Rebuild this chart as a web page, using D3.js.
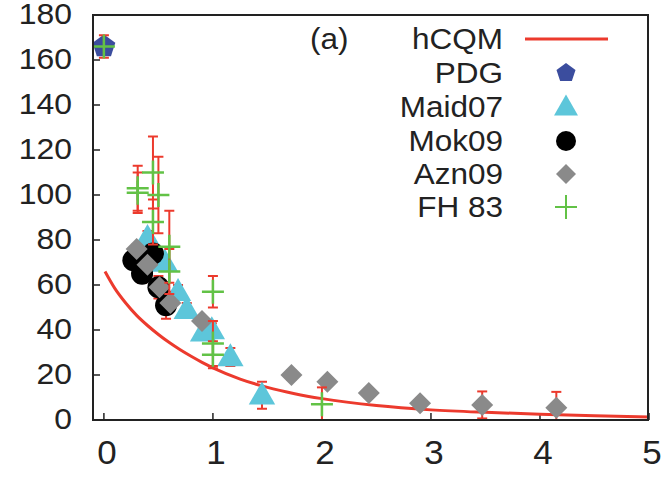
<!DOCTYPE html>
<html><head><meta charset="utf-8">
<script src="https://cdn.jsdelivr.net/npm/d3@7"></script>
<style>body{margin:0;background:#fff}svg{display:block}text{font-family:"Liberation Sans",Arial,Helvetica,sans-serif;fill:#222}</style>
</head><body><svg id="c" width="663" height="478"></svg>
<script>
const xTicks=[0,1,2,3,4,5];
const yTicks=[0,20,40,60,80,100,120,140,160,180];
const seriesNames=["hCQM","PDG","Maid07","Mok09","Azn09","FH 83"];
// hCQM curve
const hcqmX=[0.01,0.1,0.2,0.3,0.4,0.5,0.6,0.7,0.8,0.9,1.0,1.25,1.5,1.75,2.0,2.5,3.0,3.5,4.0,4.5,5.0];
const hcqmY=[66,58.5,52,46.5,42,38,34.4,31.2,28.3,25.6,23.2,18.2,14.5,11.7,9.5,6.4,4.5,3.4,2.6,1.9,1.3];
const pdgX=[0], pdgY=[166];
const maidX=[0.40,0.56,0.68,0.76,0.91,0.99,1.16,1.45];
const maidY=[81,70,57,49,39,40,28,11];
const maidE=[3,3,3,3,3,3,4,6];
const mokX=[0.27,0.35,0.45,0.50,0.57];
const mokY=[71,65,74,59,51];
const mokE=[3,4,4,5,6];
const aznX=[0.30,0.40,0.51,0.61,0.90,1.72,2.05,2.43,2.90,3.47,4.15];
const aznY=[76,69,59,52,44,20,17,12,7.5,6.7,5.5];
const aznE=[2,2,2,2,2,2,1,2,2,6,7];
const fhX=[0,0.31,0.31,0.45,0.50,0.45,0.60,0.60,1.00,1.00,1.00,2.00];
const fhY=[166,103,101,110,100,88,77,66,57,34,29,7];
const fhE=[5,10,9,16,17,10,16,10,7,10,6,7.5];

const C={red:"#ec3a2d",blue:"#3b4d9e",cyan:"#5dc6da",black:"#000",gray:"#8a8a8a",green:"#62c246",axis:"#222"};
const svg=d3.select("#c");
const L=93,R=649,T=15,B=420;
const x=d3.scaleLinear().domain([-0.1,5]).range([L,R]);
const y=d3.scaleLinear().domain([0,180]).range([B,T]);

svg.append("defs").append("clipPath").attr("id","pc").append("rect")
  .attr("x",L).attr("y",T).attr("width",R-L).attr("height",B-T);

// ticks
const ax=svg.append("g");
ax.selectAll(".yt").data(yTicks).join("line").attr("x1",L).attr("x2",L+7)
  .attr("y1",d=>y(d)).attr("y2",d=>y(d)).attr("stroke",C.axis).attr("stroke-width",1.5);
ax.selectAll(".xt").data(xTicks).join("line").attr("y1",B).attr("y2",B-7)
  .attr("x1",d=>x(d)).attr("x2",d=>x(d)).attr("stroke",C.axis).attr("stroke-width",1.5);
ax.selectAll(".yl").data(yTicks).join("text")
  .attr("transform",d=>`translate(72,${y(d)-1}) scale(1.1,1)`)
  .attr("text-anchor","end").attr("dominant-baseline","central").attr("font-size",29).text(d=>d);
ax.selectAll(".xl").data(xTicks).join("text")
  .attr("transform",d=>`translate(${x(d)+3},464) scale(1.06,1)`)
  .attr("text-anchor","middle").attr("font-size",33).text(d=>d);

const plot=svg.append("g").attr("clip-path","url(#pc)");

// curve
const line=d3.line().x(d=>x(d[0])).y(d=>y(d[1])).curve(d3.curveMonotoneX);
plot.append("path").datum(hcqmX.map((v,i)=>[v,hcqmY[i]])).attr("d",line)
  .attr("fill","none").attr("stroke",C.red).attr("stroke-width",3);

function errbars(xs,ys,es){
  const g=plot.append("g").attr("stroke",C.red).attr("stroke-width",2);
  xs.forEach((v,i)=>{
    const px=x(v),y1=y(ys[i]+es[i]),y2=y(ys[i]-es[i]);
    g.append("line").attr("x1",px).attr("x2",px).attr("y1",y1).attr("y2",y2);
    g.append("line").attr("x1",px-5).attr("x2",px+5).attr("y1",y1).attr("y2",y1);
    g.append("line").attr("x1",px-5).attr("x2",px+5).attr("y1",y2).attr("y2",y2);
  });
}
const pent=(r)=>{let p=[];for(let k=0;k<5;k++){const a=-Math.PI/2+k*2*Math.PI/5;p.push([r*Math.cos(a),r*Math.sin(a)]);}return "M"+p.join("L")+"Z";};
const tri=(s)=>`M0,${-s*0.62}L${s*0.6},${s*0.42}L${-s*0.6},${s*0.42}Z`;
const diam=(s)=>`M0,${-s}L${s},0L0,${s}L${-s},0Z`;

// PDG
plot.selectAll(".pdg").data(pdgX.map((v,i)=>[v,pdgY[i]])).join("path")
  .attr("transform",d=>`translate(${x(d[0])},${y(d[1])})`).attr("d",pent(12)).attr("fill",C.blue);
// Maid07
errbars(maidX,maidY,maidE);
plot.selectAll(".maid").data(maidX.map((v,i)=>[v,maidY[i]])).join("path")
  .attr("transform",d=>`translate(${x(d[0])},${y(d[1])})`).attr("d",tri(22)).attr("fill",C.cyan);
// Mok09
errbars(mokX,mokY,mokE);
plot.selectAll(".mok").data(mokX.map((v,i)=>[v,mokY[i]])).join("circle")
  .attr("cx",d=>x(d[0])).attr("cy",d=>y(d[1])).attr("r",11).attr("fill",C.black);
// Azn09
errbars(aznX,aznY,aznE);
plot.selectAll(".azn").data(aznX.map((v,i)=>[v,aznY[i]])).join("path")
  .attr("transform",d=>`translate(${x(d[0])},${y(d[1])})`).attr("d",diam(11)).attr("fill",C.gray);
// FH 83
errbars(fhX,fhY,fhE);
const fg=plot.append("g").attr("stroke",C.green).attr("stroke-width",2.5);
fhX.forEach((v,i)=>{
  const px=x(v),py=y(fhY[i]);
  fg.append("line").attr("x1",px-11).attr("x2",px+11).attr("y1",py).attr("y2",py);
  fg.append("line").attr("x1",px).attr("x2",px).attr("y1",py-12).attr("y2",py+12);
});

// frame
svg.append("rect").attr("x",L).attr("y",T).attr("width",R-L-1).attr("height",B-T)
  .attr("fill","none").attr("stroke",C.axis).attr("stroke-width",2);

// legend
const lg=svg.append("g");
const rowY=[39,73,107,141,174,207];
lg.append("text").attr("transform","translate(310,39) scale(1.05,1)").attr("dominant-baseline","central")
  .attr("font-size",30).text("(a)");
seriesNames.forEach((n,i)=>{
  lg.append("text").attr("transform",`translate(503,${rowY[i]}) scale(1.05,1)`)
    .attr("text-anchor","end").attr("dominant-baseline","central").attr("font-size",30).text(n);
});
const mx=566;
lg.append("line").attr("x1",525).attr("x2",608).attr("y1",rowY[0]).attr("y2",rowY[0]).attr("stroke",C.red).attr("stroke-width",3);
lg.append("path").attr("transform",`translate(${mx},${rowY[1]})`).attr("d",pent(10)).attr("fill",C.blue);
lg.append("path").attr("transform",`translate(${mx},${rowY[2]})`).attr("d",tri(20)).attr("fill",C.cyan);
lg.append("circle").attr("cx",mx).attr("cy",rowY[3]).attr("r",10).attr("fill",C.black);
lg.append("path").attr("transform",`translate(${mx},${rowY[4]})`).attr("d",diam(10)).attr("fill",C.gray);
lg.append("line").attr("x1",mx-11).attr("x2",mx+11).attr("y1",rowY[5]).attr("y2",rowY[5]).attr("stroke",C.green).attr("stroke-width",2);
lg.append("line").attr("x1",mx).attr("x2",mx).attr("y1",rowY[5]-12).attr("y2",rowY[5]+12).attr("stroke",C.green).attr("stroke-width",2);
</script></body></html>
